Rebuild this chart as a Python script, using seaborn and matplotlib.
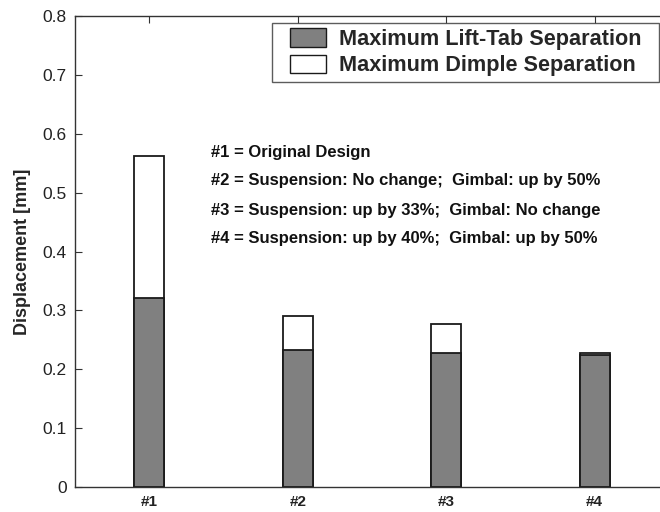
import matplotlib
matplotlib.use("Agg")
import matplotlib.pyplot as plt
from matplotlib.patches import Patch, Rectangle
from matplotlib.legend_handler import HandlerPatch
import seaborn as sns
import pandas as pd

designs = ["#1", "#2", "#3", "#4"]
lift_tab = [0.321, 0.233, 0.228, 0.224]
dimple_total = [0.562, 0.290, 0.277, 0.228]
series_names = ["Maximum Lift-Tab Separation", "Maximum Dimple Separation"]
notes = [
    "#1 = Original Design",
    "#2 = Suspension: No change;  Gimbal: up by 50%",
    "#3 = Suspension: up by 33%;  Gimbal: No change",
    "#4 = Suspension: up by 40%;  Gimbal: up by 50%",
]
y_ticks = [0, 0.1, 0.2, 0.3, 0.4, 0.5, 0.6, 0.7, 0.8]

sns.set_style("white")
plt.rcParams["font.family"] = ["Liberation Sans", "DejaVu Sans"]

df = pd.DataFrame({"design": designs, "lift": lift_tab, "total": dimple_total})

fig = plt.figure(figsize=(6.6, 5.12), dpi=100)
ax = fig.add_axes([75 / 660, 25 / 512, 594 / 660, 471 / 512])

gray = "#808080"
edge = "#1a1a1a"
# total height (white, dimple part on top) then lift-tab part over it
sns.barplot(data=df, x="design", y="total", color="white", width=0.2,
            edgecolor=edge, linewidth=1.3, saturation=1, ax=ax)
sns.barplot(data=df, x="design", y="lift", color=gray, width=0.2,
            edgecolor=edge, linewidth=1.3, saturation=1, ax=ax)

ax.set_xlim(-0.5, 3.5)
ax.set_ylim(0, 0.8)
ax.set_yticks(y_ticks)
ax.set_yticklabels([f"{t:g}" for t in y_ticks], fontsize=12.5, color="#222222")
ax.set_xticks(range(len(designs)))
ax.set_xticklabels(designs, fontsize=11, fontweight="bold", color="#222222")
ax.set_xlabel("")
ax.set_ylabel("Displacement [mm]", fontsize=13, fontweight="bold", labelpad=8)

for s in ax.spines.values():
    s.set_color("#333333")
    s.set_linewidth(1.0)
ax.tick_params(axis="both", direction="in", length=5, width=0.8, color="#333333",
               top=True, right=True, bottom=True, left=True, pad=6)


def inset_swatch(legend, orig_handle, xdescent, ydescent, width, height, fontsize):
    # swatch drawn with some blank room on its left inside the handle box
    off = 9
    return Rectangle((-xdescent + off, -ydescent), width - off, height)


handles = [Patch(facecolor=gray, edgecolor=edge, linewidth=1.0),
           Patch(facecolor="white", edgecolor=edge, linewidth=1.0)]
leg = ax.legend(handles, [n + "  " for n in series_names], loc="upper right",
                bbox_to_anchor=(659 / 660, (512 - 23) / 512),
                bbox_transform=fig.transFigure, borderaxespad=0,
                prop={"size": 15.6, "weight": "bold"}, fancybox=False,
                frameon=True, handlelength=2.26, handleheight=0.95,
                handletextpad=0.6, labelspacing=0.2, borderpad=0.25,
                handler_map={Patch: HandlerPatch(patch_func=inset_swatch)})
leg.get_frame().set_edgecolor("#333333")
leg.get_frame().set_linewidth(1.0)

for i, line in enumerate(notes):
    fig.text(211 / 660, 1 - (152 + 29 * i) / 512, line,
             family=["Liberation Sans", "DejaVu Sans"],
             fontsize=12, fontweight="bold", va="center", ha="left", color="#111111")

fig.savefig("out.png", dpi=100)
